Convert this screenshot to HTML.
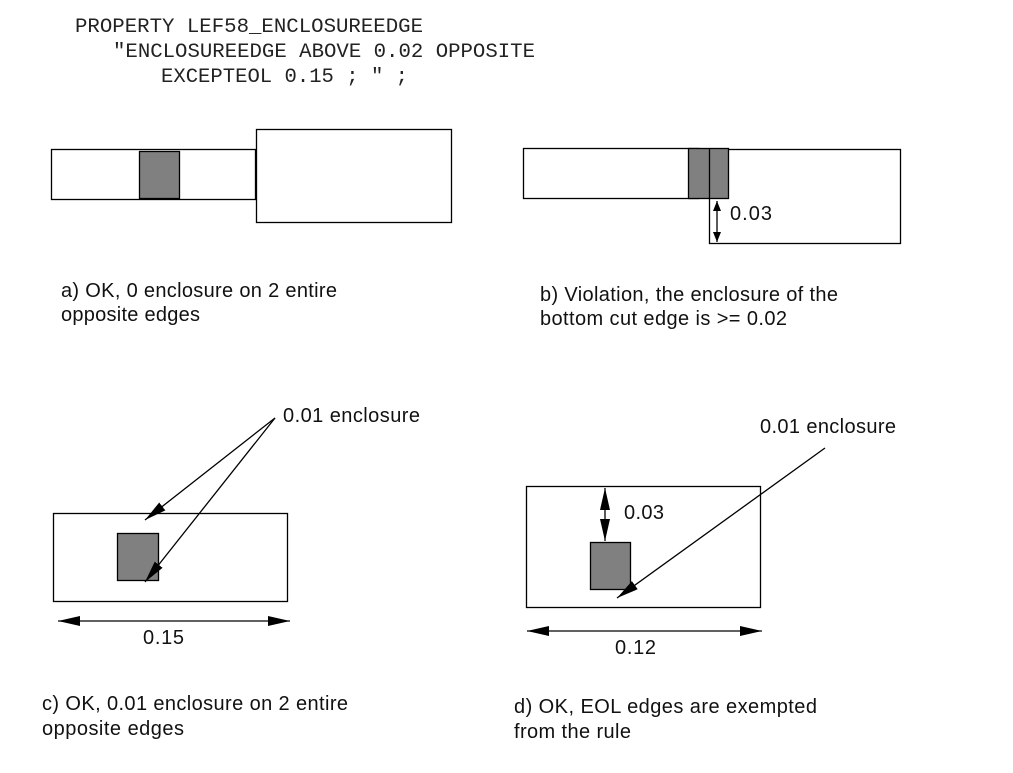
<!DOCTYPE html>
<html><head><style>
body{margin:0;background:#fff;width:1013px;height:773px;overflow:hidden}
svg{display:block}
.m{font-family:"Liberation Mono",monospace;font-size:20px;fill:#222}
.s{font-family:"Liberation Sans",sans-serif;font-size:20px;fill:#111}
</style></head><body>
<svg width="1013" height="773" viewBox="0 0 1013 773">
<defs>
<marker id="a" markerWidth="10" markerHeight="8" refX="10" refY="4" orient="auto-start-reverse" markerUnits="userSpaceOnUse"><path d="M0,0L10,4L0,8z" fill="#000"/></marker>
<marker id="b" markerWidth="22" markerHeight="10" refX="22" refY="5" orient="auto-start-reverse" markerUnits="userSpaceOnUse"><path d="M0,0L22,5L0,10z" fill="#000"/></marker>
</defs>
<text class="m" x="75" y="32" textLength="348" lengthAdjust="spacingAndGlyphs">PROPERTY LEF58_ENCLOSUREEDGE</text>
<text class="m" x="113" y="57" textLength="422" lengthAdjust="spacingAndGlyphs">"ENCLOSUREEDGE ABOVE 0.02 OPPOSITE</text>
<text class="m" x="161" y="82" textLength="247" lengthAdjust="spacingAndGlyphs">EXCEPTEOL 0.15 ; " ;</text>
<g stroke="#000" stroke-width="1.3" fill="none">
<rect x="51.5" y="149.5" width="204" height="50"/>
<rect x="139.5" y="151.5" width="40" height="47" fill="#808080"/>
<rect x="256.5" y="129.5" width="195" height="93"/>
<rect x="523.5" y="148.5" width="175" height="50"/>
<rect x="709.5" y="149.5" width="191" height="94"/>
<rect x="688.5" y="148.5" width="40" height="50" fill="#808080"/>
<line x1="709.5" y1="148" x2="709.5" y2="199"/>
<line x1="717" y1="201" x2="717" y2="242" marker-start="url(#a)" marker-end="url(#a)"/>
<rect x="53.5" y="513.5" width="234" height="88"/>
<rect x="117.5" y="533.5" width="41" height="47" fill="#808080"/>
<line x1="275" y1="418" x2="145" y2="520" marker-end="url(#b)"/>
<line x1="275" y1="418" x2="145" y2="582" marker-end="url(#b)"/>
<line x1="58" y1="621" x2="290" y2="621" marker-start="url(#b)" marker-end="url(#b)"/>
<rect x="526.5" y="486.5" width="234" height="121"/>
<rect x="590.5" y="542.5" width="40" height="47" fill="#808080"/>
<line x1="605" y1="488" x2="605" y2="541" marker-start="url(#b)" marker-end="url(#b)"/>
<line x1="825" y1="448" x2="617" y2="598" marker-end="url(#b)"/>
<line x1="527" y1="631" x2="762" y2="631" marker-start="url(#b)" marker-end="url(#b)"/>
</g>
<g lengthAdjust="spacingAndGlyphs">
<text class="s" x="730" y="220" textLength="42">0.03</text>
<text class="s" x="61" y="297" textLength="276">a) OK, 0 enclosure on 2 entire</text>
<text class="s" x="61" y="321" textLength="139">opposite edges</text>
<text class="s" x="540" y="301" textLength="298">b) Violation, the enclosure of the</text>
<text class="s" x="540" y="325" textLength="247">bottom cut edge is &gt;= 0.02</text>
<text class="s" x="283" y="422" textLength="137">0.01 enclosure</text>
<text class="s" x="143" y="644" textLength="41">0.15</text>
<text class="s" x="42" y="710" textLength="306">c) OK, 0.01 enclosure on 2 entire</text>
<text class="s" x="42" y="735" textLength="142">opposite edges</text>
<text class="s" x="760" y="433" textLength="136">0.01 enclosure</text>
<text class="s" x="624" y="519" textLength="40">0.03</text>
<text class="s" x="615" y="654" textLength="41">0.12</text>
<text class="s" x="514" y="713" textLength="303">d) OK, EOL edges are exempted</text>
<text class="s" x="514" y="738" textLength="117">from the rule</text>
</g>
</svg>
</body></html>
